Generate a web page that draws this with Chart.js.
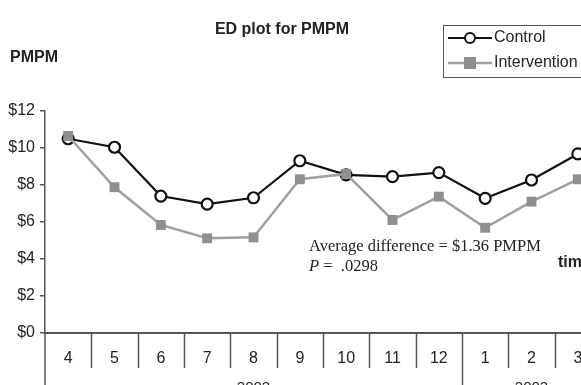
<!DOCTYPE html>
<html>
<head>
<meta charset="utf-8">
<script src="https://cdn.jsdelivr.net/npm/chart.js@4.4.1/dist/chart.umd.min.js"></script>
<style>
  html, body { margin: 0; padding: 0; background: #fff; }
  #wrap { width: 581px; height: 385px; overflow: hidden; position: relative; }
  canvas { position: absolute; left: 0; top: 0; }
</style>
</head>
<body>
<div id="wrap"><canvas id="chart" width="620" height="400"></canvas></div>
<script>
// --- data ---
const months = ['4', '5', '6', '7', '8', '9', '10', '11', '12', '1', '2', '3'];
const controlValues = [10.5, 10.04, 7.4, 6.97, 7.31, 9.31, 8.55, 8.45, 8.67, 7.28, 8.27, 9.68];
const interventionValues = [10.65, 7.88, 5.84, 5.12, 5.17, 8.31, 8.6, 6.11, 7.37, 5.69, 7.1, 8.31];
const yearLabels = ['2002', '2003'];
const yearSpans = [9, 3];   // months in each year block
const yTickStep = 2;
const yMax = 12;

const SANS = '"Liberation Sans", Arial, Helvetica, sans-serif';
const SERIF = '"Liberation Serif", "Times New Roman", serif';
const AXIS = '#555';

// extra drawing: title, legend box, note, table under the x axis
const decorations = {
  id: 'decorations',
  afterDraw(chart) {
    const ctx = chart.ctx;
    const x = chart.scales.x;
    const area = chart.chartArea;
    const H = chart.height;
    ctx.save();

    // title + axis name
    ctx.fillStyle = '#222';
    ctx.textBaseline = 'middle';
    ctx.font = 'bold 16px ' + SANS;
    ctx.textAlign = 'center';
    ctx.fillText('ED plot for PMPM', 282, 30);
    ctx.textAlign = 'left';
    ctx.fillText('PMPM', 10, 58);
    ctx.fillText('time', 558, 263);

    // legend box (runs off the right edge)
    ctx.strokeStyle = '#555';
    ctx.lineWidth = 1;
    ctx.strokeRect(443.5, 25.5, 160, 52);
    ctx.lineWidth = 2;
    ctx.strokeStyle = '#111';
    ctx.beginPath(); ctx.moveTo(448, 38); ctx.lineTo(492, 38); ctx.stroke();
    ctx.fillStyle = '#fff';
    ctx.beginPath(); ctx.arc(470, 38, 5, 0, Math.PI * 2); ctx.fill(); ctx.stroke();
    ctx.strokeStyle = '#a0a0a0';
    ctx.lineWidth = 2.5;
    ctx.beginPath(); ctx.moveTo(448, 63); ctx.lineTo(492, 63); ctx.stroke();
    ctx.fillStyle = '#8f8f8f';
    ctx.fillRect(464, 57, 12, 12);
    ctx.fillStyle = '#222';
    ctx.font = '16px ' + SANS;
    ctx.fillText('Control', 494, 38);
    ctx.fillText('Intervention', 494, 63);

    // note
    ctx.font = '16.5px ' + SERIF;
    ctx.fillText('Average difference = $1.36 PMPM', 309, 247);
    ctx.font = 'italic 16.5px ' + SERIF;
    ctx.fillText('P', 309, 267);
    const pw = ctx.measureText('P').width;
    ctx.font = '16.5px ' + SERIF;
    ctx.fillText(' =  .0298', 309 + pw, 267);

    // table dividers under the axis
    const step = x.getPixelForValue(1) - x.getPixelForValue(0);
    const edge = i => x.getPixelForValue(i) - step / 2;
    ctx.strokeStyle = AXIS;
    ctx.lineWidth = 1.5;
    const yearEnds = [];
    let acc = 0;
    yearSpans.forEach(n => { acc += n; yearEnds.push(acc); });
    ctx.beginPath();
    ctx.moveTo(area.left, area.bottom); ctx.lineTo(area.left, H);
    for (let i = 1; i < months.length; i++) {
      const px = Math.round(edge(i)) + 0.5;
      ctx.moveTo(px, area.bottom);
      ctx.lineTo(px, yearEnds.includes(i) ? H : area.bottom + 35);
    }
    ctx.stroke();

    // year labels (only their tops show)
    ctx.font = '15px ' + SANS;
    ctx.textAlign = 'center';
    ctx.textBaseline = 'top';
    let start = 0;
    yearLabels.forEach((lab, k) => {
      const end = start + yearSpans[k];
      ctx.fillText(lab, (edge(start) + edge(end)) / 2, area.bottom + 47);
      start = end;
    });
    ctx.restore();
  }
};

new Chart(document.getElementById('chart'), {
  type: 'line',
  data: {
    labels: months,
    datasets: [
      {
        label: 'Control',
        data: controlValues,
        order: 1,
        borderColor: '#111',
        borderWidth: 2.2,
        pointStyle: 'circle',
        pointRadius: 5.5,
        pointBorderWidth: 2.2,
        pointBackgroundColor: '#fff',
        pointBorderColor: '#111',
        tension: 0
      },
      {
        label: 'Intervention',
        data: interventionValues,
        order: 0,
        borderColor: '#a0a0a0',
        borderWidth: 2.5,
        pointStyle: 'rect',
        pointRadius: 7,
        pointBorderWidth: 0,
        pointBackgroundColor: '#8f8f8f',
        pointBorderColor: '#8f8f8f',
        tension: 0
      }
    ]
  },
  options: {
    responsive: false,
    animation: false,
    devicePixelRatio: 1,
    layout: { padding: { top: 111, right: 19, left: 0, bottom: 0 } },
    plugins: { legend: { display: false }, tooltip: { enabled: false } },
    scales: {
      x: {
        offset: true,
        grid: { display: false },
        border: { display: true, color: AXIS, width: 2 },
        ticks: { color: '#222', font: { family: SANS, size: 16 }, padding: 8, maxRotation: 0 },
        afterFit: s => { s.height = 67; }
      },
      y: {
        min: 0,
        max: yMax,
        ticks: {
          stepSize: yTickStep,
          color: '#222',
          font: { family: SANS, size: 16 },
          padding: 5,
          callback: v => '$' + v
        },
        grid: { drawOnChartArea: false, drawTicks: true, tickLength: 5, color: AXIS, lineWidth: 1.5 },
        border: { display: true, color: AXIS, width: 1.5 },
        afterFit: s => { s.width = 45; }
      }
    }
  },
  plugins: [decorations]
});
</script>
</body>
</html>
